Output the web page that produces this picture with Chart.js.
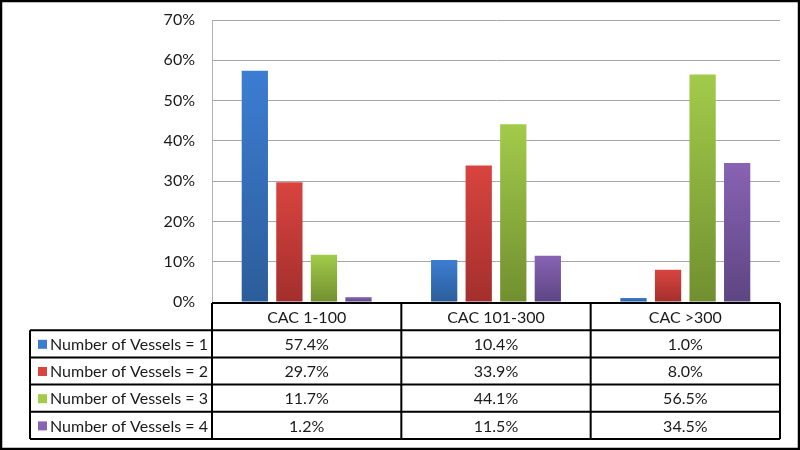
<!DOCTYPE html>
<html lang="en">
<head>
  <meta charset="UTF-8">
  <title>Number of Vessels by CAC</title>
  <script src="https://cdn.jsdelivr.net/npm/chart.js"></script>
  <style>
    body { margin: 0; background: #fff; }
    canvas { display: block; }
  </style>
</head>
<body>
  <canvas id="myChart" width="800" height="450"></canvas>

  <script>
    // data
    const categories = ['CAC 1-100', 'CAC 101-300', 'CAC >300'];
    const seriesNames = [
      'Number of Vessels = 1',
      'Number of Vessels = 2',
      'Number of Vessels = 3',
      'Number of Vessels = 4'
    ];
    const vessels1 = [57.4, 10.4, 1.0];
    const vessels2 = [29.7, 33.9, 8.0];
    const vessels3 = [11.7, 44.1, 56.5];
    const vessels4 = [1.2, 11.5, 34.5];

    // top / bottom colours of each bar gradient
    const colorsTop = ['#3c7dd2', '#d9443f', '#a2cb4a', '#8863b4'];
    const colorsBottom = ['#2c5d9a', '#a32f2d', '#718f30', '#5d4582'];
    const fontFamily = 'Lato, "Open Sans", sans-serif';

    function barFill(i) {
      return function(context) {
        const chart = context.chart;
        const y = chart.scales.y;
        if (!y || context.parsed === undefined) return colorsTop[i];
        const yTop = y.getPixelForValue(context.parsed.y);
        const yBot = y.getPixelForValue(0);
        if (!isFinite(yTop) || yBot - yTop < 1) return colorsBottom[i];
        const g = chart.ctx.createLinearGradient(0, yTop, 0, yBot);
        g.addColorStop(0, colorsTop[i]);
        g.addColorStop(1, colorsBottom[i]);
        return g;
      };
    }

    // draws the data table under the plot, lined up with the x scale
    const dataTable = {
      id: 'dataTable',
      afterDraw(chart) {
        const ctx = chart.ctx;
        const area = chart.chartArea;
        const x = chart.scales.x;
        const half = (x.getPixelForValue(1) - x.getPixelForValue(0)) / 2;
        const edges = categories.map((c, i) => x.getPixelForValue(i) - half);
        edges.push(x.getPixelForValue(categories.length - 1) + half);
        const left = 30;
        const top = area.bottom + 1;
        const rowH = 27.2;
        const rows = chart.data.datasets.length;
        const bottom = top + rowH * (rows + 1);

        ctx.save();
        ctx.strokeStyle = '#000';
        ctx.lineWidth = 2;

        // horizontal lines
        ctx.beginPath();
        ctx.moveTo(edges[0], top);
        ctx.lineTo(edges[edges.length - 1], top);
        for (let r = 1; r <= rows + 1; r++) {
          const yy = top + rowH * r;
          ctx.moveTo(left, yy);
          ctx.lineTo(edges[edges.length - 1], yy);
        }
        // vertical lines
        ctx.moveTo(left, top + rowH);
        ctx.lineTo(left, bottom);
        edges.forEach(e => {
          ctx.moveTo(e, top);
          ctx.lineTo(e, bottom);
        });
        ctx.stroke();

        ctx.fillStyle = '#1a1a1a';
        ctx.font = '16px ' + fontFamily;
        ctx.textAlign = 'center';
        ctx.textBaseline = 'middle';
        categories.forEach((c, i) => {
          ctx.fillText(c, (edges[i] + edges[i + 1]) / 2, top + rowH / 2 + 1);
        });

        chart.data.datasets.forEach((ds, r) => {
          const cy = top + rowH * (r + 1.5) + 1;
          ds.data.forEach((v, i) => {
            ctx.fillStyle = '#1a1a1a';
            ctx.textAlign = 'center';
            ctx.fillText(v.toFixed(1) + '%', (edges[i] + edges[i + 1]) / 2, cy);
          });
          // legend key + name
          ctx.fillStyle = colorsTop[r];
          ctx.fillRect(38, cy - 5, 9, 9);
          ctx.fillStyle = '#1a1a1a';
          ctx.textAlign = 'left';
          ctx.fillText(ds.label, 50, cy);
        });

        // outer frame of the picture
        ctx.lineWidth = 2.5;
        ctx.strokeRect(1, 1, chart.width - 2, chart.height - 2);
        ctx.restore();
      }
    };

    const seriesData = [vessels1, vessels2, vessels3, vessels4];

    new Chart(document.getElementById('myChart'), {
      type: 'bar',
      data: {
        labels: categories,
        datasets: seriesData.map((d, i) => ({
          label: seriesNames[i],
          data: d,
          backgroundColor: barFill(i),
          borderWidth: 0,
          categoryPercentage: 0.73,
          barPercentage: 0.76
        }))
      },
      options: {
        responsive: false,
        animation: false,
        layout: { padding: { left: 0, top: 20, right: 20, bottom: 148 } },
        plugins: {
          legend: { display: false },
          tooltip: { enabled: false }
        },
        scales: {
          x: { display: false },
          y: {
            min: 0,
            max: 70,
            ticks: {
              stepSize: 10,
              padding: 17,
              color: '#1a1a1a',
              font: { family: fontFamily, size: 16 },
              callback: v => v + '%'
            },
            grid: { color: '#a6a6a6', drawTicks: false },
            border: { display: true, color: '#b0b0b0' },
            afterFit(scale) {
              scale.width = 212;
              scale.paddingTop = 0;
              scale.paddingBottom = 0;
            }
          }
        }
      },
      plugins: [dataTable]
    });
  </script>
</body>
</html>
